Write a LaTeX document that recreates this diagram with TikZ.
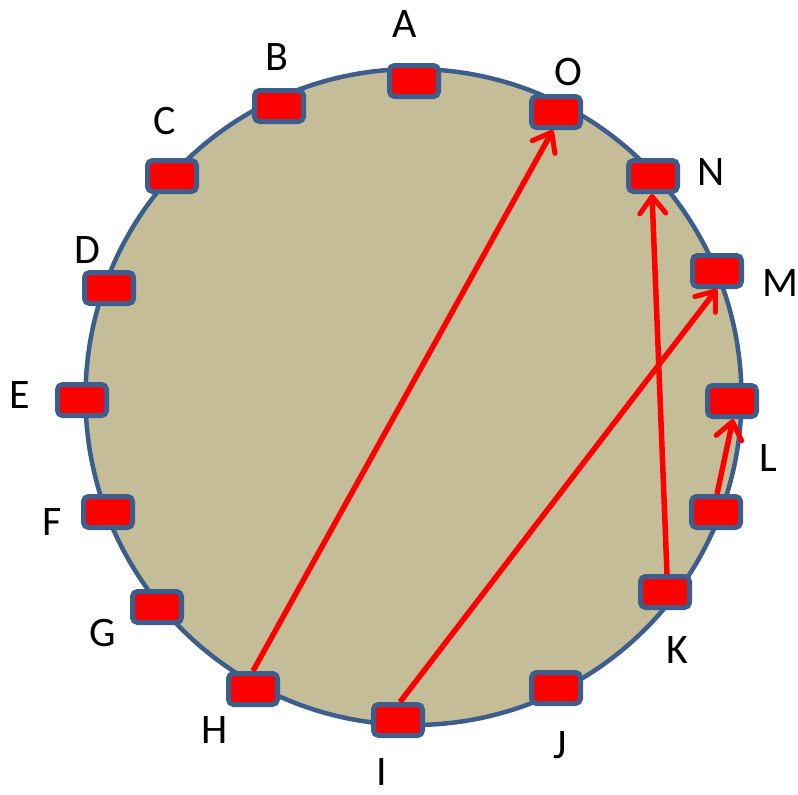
\documentclass[tikz,border=0pt]{standalone}
\usepackage{fontspec}
\setmainfont{Carlito}
\usepackage{tikz}
\usetikzlibrary{arrows.meta}
\definecolor{RingTan}{RGB}{196,189,151}
\definecolor{RingBlue}{RGB}{60,94,140}
\definecolor{PortRed}{RGB}{255,0,0}
\tikzset{
  port/.style={draw=RingBlue, line width=5pt, fill=PortRed, rounded corners=5pt,
    minimum width=49pt, minimum height=31pt, inner sep=0pt},
  plab/.style={font=\fontsize{42}{48}\selectfont, inner sep=0pt},
  jump/.style={-{Straight Barb[length=17pt, width=26pt, line width=5pt, round]}, line width=5.5pt, PortRed},
}
\begin{document}
\begin{tikzpicture}[x=1pt, y=-1pt]
  \useasboundingbox (0,0) rectangle (798,795);
  % ring
  \draw[RingBlue, line width=4.5pt, fill=RingTan] (413.5,397) circle[radius=328pt];
  % ports
  \node[port] (A) at (414,81) {};
  \node[port] (B) at (279,106) {};
  \node[port] (C) at (172,176) {};
  \node[port] (D) at (109,288) {};
  \node[port] (E) at (82,400) {};
  \node[port] (F) at (108,512) {};
  \node[port] (G) at (157,607) {};
  \node[port] (H) at (253,689) {};
  \node[port] (I) at (398,720) {};
  \node[port] (J) at (556,688) {};
  \node[port] (K) at (665,592) {};
  \node[port] (P) at (716,512) {};
  \node[port] (L) at (732,401) {};
  \node[port] (M) at (717,271) {};
  \node[port] (N) at (653,176) {};
  \node[port] (O) at (556,112) {};
  % labels
  \node[plab] (lA) at (405,24) {A};
  \node[plab] (lB) at (277,57) {B};
  \node[plab] (lC) at (165,121) {C};
  \node[plab] (lD) at (87,250) {D};
  \node[plab] (lE) at (20,395) {E};
  \node[plab] (lF) at (52,522) {F};
  \node[plab] (lG) at (103,633) {G};
  \node[plab] (lH) at (215,730) {H};
  \node[plab] (lI) at (382,772) {I};
  \node[plab] (lJ) at (560,745) {J};
  \node[plab] (lK) at (677,650) {K};
  \node[plab] (lL) at (768,458) {L};
  \node[plab] (lM) at (780,283) {M};
  \node[plab] (lN) at (711,172) {N};
  \node[plab] (lO) at (568,72) {O};
  % jumps
  \draw[jump] (H.north) -- ([xshift=-3pt]O.south);
  \draw[jump] ([xshift=2pt]I.north) -- (M.south);
  \draw[jump] ([xshift=2pt]K.north) -- ([xshift=-1pt]N.south);
  \draw[jump] ([xshift=1pt]P.north) -- ([xshift=1pt]L.south);
\end{tikzpicture}
\end{document}
